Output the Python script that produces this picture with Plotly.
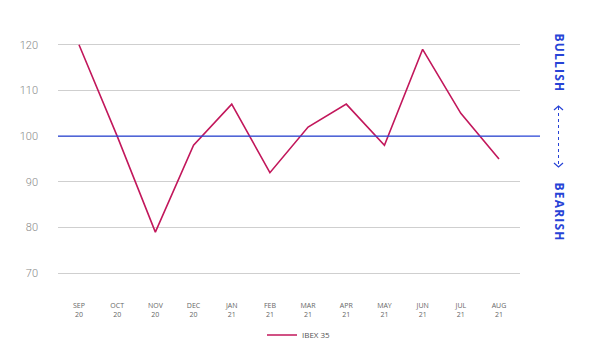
import plotly.graph_objects as go

months = ["SEP<br>20", "OCT<br>20", "NOV<br>20", "DEC<br>20", "JAN<br>21", "FEB<br>21",
          "MAR<br>21", "APR<br>21", "MAY<br>21", "JUN<br>21", "JUL<br>21", "AUG<br>21"]
ibex = [120, 100, 79, 98, 107, 92, 102, 107, 98, 119, 105, 95]
y_ticks = [70, 80, 90, 100, 110, 120]
neutral = 100

W, H = 600, 355
L, R, T, B = 58, 80, 31, 68
PW, PH = W - L - R, H - T - B


def px(x):
    return (x - L) / PW


def py(y):
    return (H - B - y) / PH


blue = "#2743d6"
fig = go.Figure()
fig.add_trace(go.Scatter(x=list(range(len(months))), y=ibex, mode="lines", name="IBEX 35",
                         line=dict(color="#c2175b", width=1.6)))

fig.add_shape(type="line", xref="paper", yref="y", x0=0, x1=px(540), y0=neutral, y1=neutral,
              line=dict(color=blue, width=1.4))
# arrow between labels
fig.add_shape(type="line", xref="paper", yref="paper", x0=px(558.5), x1=px(558.5), y0=py(107), y1=py(166),
              line=dict(color=blue, width=1, dash="dot"))
fig.add_shape(type="path", xref="paper", yref="paper",
              path=f"M {px(554)} {py(110)} L {px(558.5)} {py(106)} L {px(563)} {py(110)}",
              line=dict(color=blue, width=1.2))
fig.add_shape(type="path", xref="paper", yref="paper",
              path=f"M {px(554)} {py(163)} L {px(558.5)} {py(167)} L {px(563)} {py(163)}",
              line=dict(color=blue, width=1.2))
hs = "\u200a"
for txt, yy in [("BULLISH", 62.5), ("BEARISH", 211.5)]:
    fig.add_annotation(text=hs.join(txt), xref="paper", yref="paper", x=px(559), y=py(yy), showarrow=False,
                       textangle=90, font=dict(family="Open Sans", size=12, color=blue, weight="bold"),
                       xanchor="center", yanchor="middle")

fig.update_layout(
    width=W, height=H, margin=dict(l=L, r=R, t=T, b=B, autoexpand=False),
    paper_bgcolor="white", plot_bgcolor="white",
    showlegend=True,
    legend=dict(orientation="h", x=0.5 + 10 / PW, xref="paper", xanchor="center", y=py(335), yanchor="middle",
                font=dict(family="Open Sans", size=8, color="#555")),
    xaxis=dict(tickmode="array", tickvals=list(range(len(months))), ticktext=months,
               range=[-0.55, len(months) - 0.45], showgrid=False, zeroline=False, showline=False,
               tickfont=dict(family="Open Sans", size=7, color="#666"), ticks="", ticklabelstandoff=13,
               automargin=False),
    yaxis=dict(range=[67, 123], tickvals=y_ticks, showgrid=True, gridcolor="#cfcfcf", gridwidth=1,
               zeroline=False, showline=False, ticks="", automargin=False,
               tickfont=dict(family="Roboto", size=11, color="#888", weight=300), ticklabelstandoff=19),
)

fig.write_html("out.html")
